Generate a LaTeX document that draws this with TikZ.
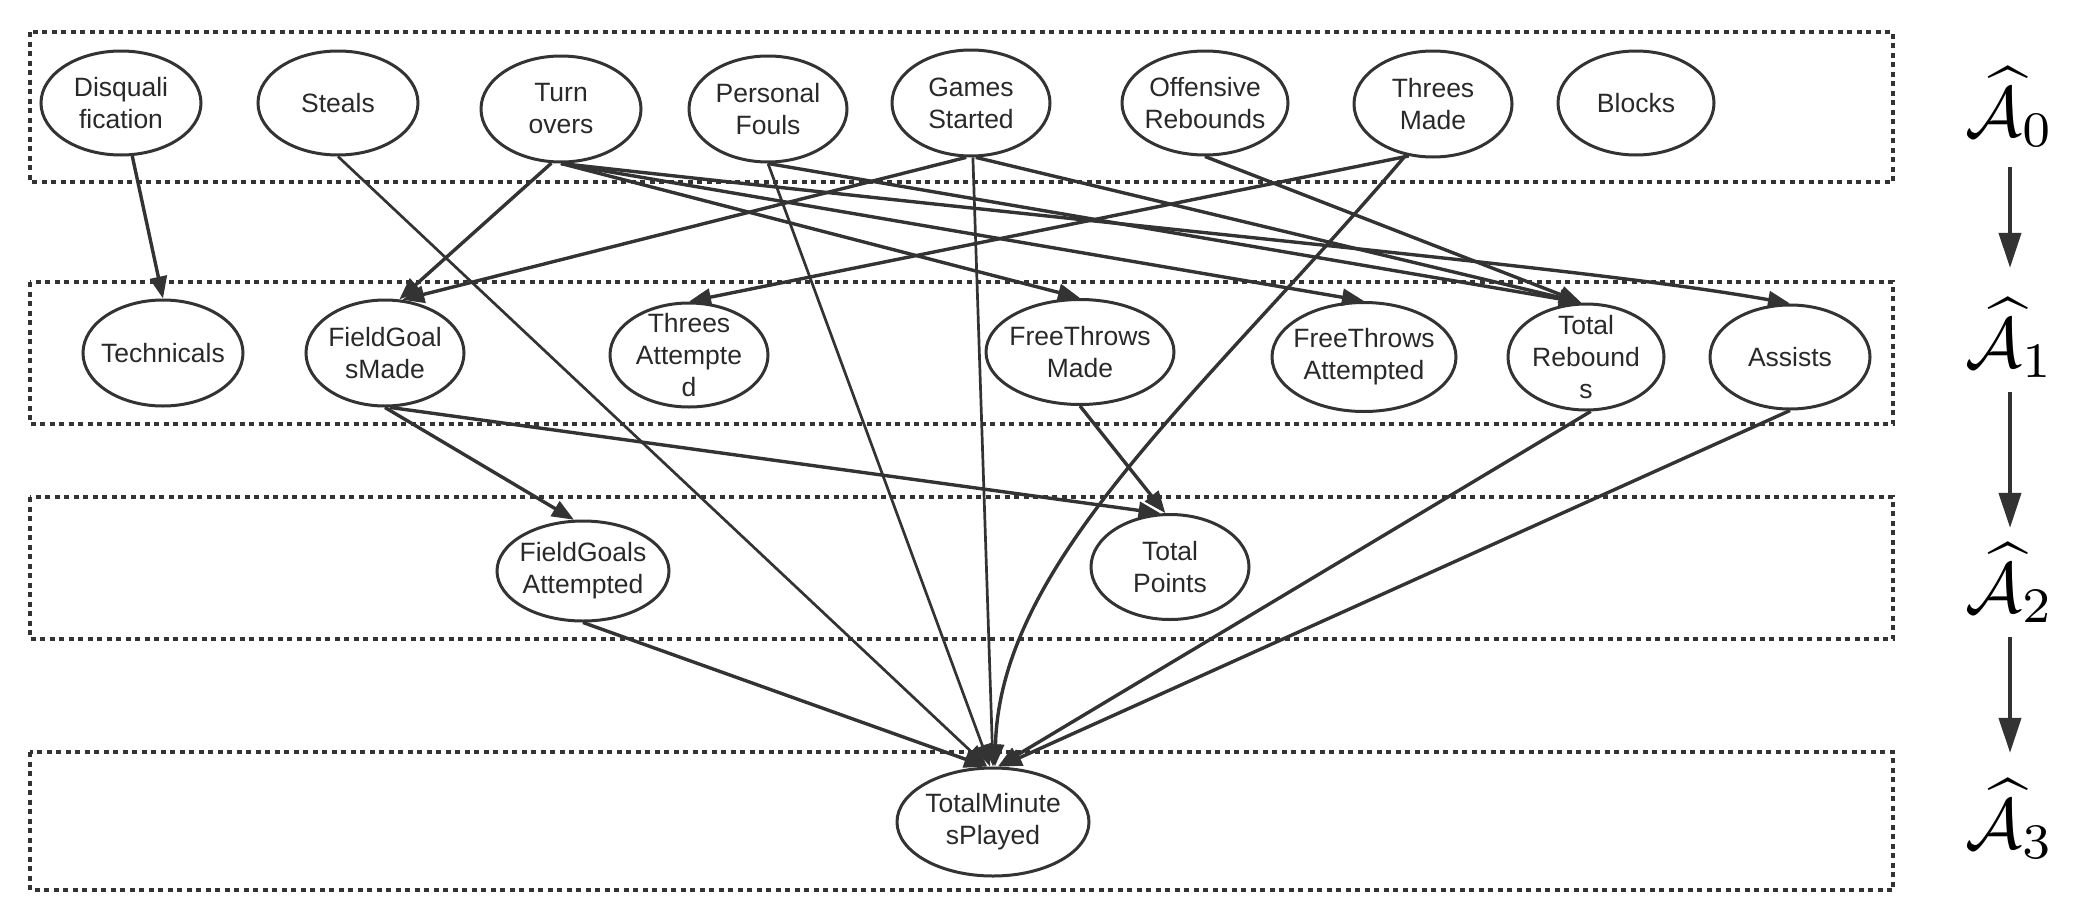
\documentclass[tikz,border=0pt]{standalone}
\usepackage[no-math]{fontspec}
\usepackage{graphicx}
\usetikzlibrary{shapes.geometric,arrows.meta}
\newfontfamily\nodefont{Liberation Sans}
\definecolor{ink}{HTML}{333333}
\tikzset{
  var/.style={ellipse, draw=ink, line width=3pt, inner xsep=-6pt, inner ysep=-10pt,
    minimum width=160pt, minimum height=106pt, align=center, text=ink!80!black,
    font=\nodefont\fontsize{26.5}{32}\selectfont},
  edge/.style={-{Triangle[length=22pt,width=17pt]}, draw=ink, line width=3.4pt},
  thinedge/.style={edge, line width=2.7pt},
  layer/.style={draw=ink, line width=3.5pt, dash pattern=on 5pt off 4.5pt},
  lab/.style={inner sep=0pt, text=black},
  labarrow/.style={-{Triangle[length=35pt,width=22pt]}, draw=ink, line width=4pt},
}
\begin{document}
\begin{tikzpicture}[x=1pt,y=-1pt]
\useasboundingbox (0,0) rectangle (2089,916);
% layers
\draw[layer] (30,32) rectangle (1893,182);
\draw[layer] (30,282) rectangle (1893,424);
\draw[layer] (30,497) rectangle (1893,639);
\draw[layer] (30,752) rectangle (1893,890);
% row 0
\node[var, minimum width=160pt, minimum height=104pt] (dq) at (121,103) {Disquali\\fication};
\node[var, minimum width=160pt, minimum height=104pt] (st) at (338,103) {Steals};
\node[var, minimum width=160pt, minimum height=106pt] (tov) at (561,109) {Turn\\overs};
\node[var, minimum width=158pt, minimum height=106pt] (pf) at (768,109) {Personal\\Fouls};
\node[var, minimum width=158pt, minimum height=106pt] (gs) at (971,103) {Games\\Started};
\node[var, minimum width=166pt, minimum height=104pt] (orb) at (1205,103) {Offensive\\Rebounds};
\node[var, minimum width=158pt, minimum height=106pt] (tm) at (1433,104) {Threes\\Made};
\node[var, minimum width=156pt, minimum height=104pt] (bl) at (1636,103) {Blocks};
% row 1
\node[var, minimum width=160pt, minimum height=106pt] (tech) at (163,353) {Technicals};
\node[var, minimum width=158pt, minimum height=106pt] (fgm) at (385,353) {FieldGoal\\sMade};
\node[var, minimum width=158pt, minimum height=104pt] (ta) at (689,355) {Threes\\Attempte\\d};
\node[var, minimum width=188pt, minimum height=105pt] (ftm) at (1080,352) {FreeThrows\\Made};
\node[var, minimum width=184pt, minimum height=109pt] (fta) at (1364,357) {FreeThrows\\Attempted};
\node[var, minimum width=156pt, minimum height=106pt] (tr) at (1586,357) {Total\\Rebound\\s};
\node[var, minimum width=160pt, minimum height=104pt] (as) at (1790,357) {Assists};
% row 2
\node[var, minimum width=172pt, minimum height=100pt] (fga) at (583,571) {FieldGoals\\Attempted};
\node[var, minimum width=158pt, minimum height=105pt] (tp) at (1170,567) {Total\\Points};
% row 3
\node[var, minimum width=192pt, minimum height=108pt] (tmp) at (993,822) {TotalMinute\\sPlayed};
% edges
\draw[edge] (dq.-78) -- (tech.north);
\draw[thinedge] (st.south) -- (tmp.96);
\draw[edge] (tov.-100) -- (fgm.75);
\draw[edge] (gs.-95) -- (fgm.72);
\draw[edge] (tov.south) -- (ftm.north);
\draw[edge] (tov.south) -- (fta.north);
\draw[edge] (tov.south) .. controls (1300,245) and (1600,270) .. (as.north);
\draw[thinedge] (pf.south) -- (tmp.93);
\draw[edge] (pf.south) -- (tr.95);
\draw[thinedge] (gs.-88) -- (tmp.north);
\draw[edge] (gs.-85) -- (tr.95);
\draw[edge] (orb.south) -- (tr.95);
\draw[edge] (tm.-115) -- (ta.north);
\draw[edge] (tm.-118) .. controls (1205,391) and (1000,560) .. (tmp.88);
\draw[edge] (fgm.south) -- (fga.100);
\draw[edge] (fgm.-85) -- (tp.100);
\draw[edge] (ftm.south) -- (tp.95);
\draw[edge] (fga.south) -- (tmp.97);
\draw[edge] (tr.-85) -- (tmp.85);
\draw[edge] (as.south) -- (tmp.83);
% layer labels
\node[lab] (a0) at (2010,107) {\scalebox{7.1}{$\widehat{\mathcal{A}}_{0}$}};
\node[lab] (a1) at (2010,338) {\scalebox{7.1}{$\widehat{\mathcal{A}}_{1}$}};
\node[lab] (a2) at (2010,583) {\scalebox{7.1}{$\widehat{\mathcal{A}}_{2}$}};
\node[lab] (a3) at (2010,819) {\scalebox{7.1}{$\widehat{\mathcal{A}}_{3}$}};
\draw[labarrow, shorten <=20pt, shorten >=30pt] (a0.south) -- (a1.north);
\draw[labarrow, shorten <=14pt, shorten >=15pt] (a1.south) -- (a2.north);
\draw[labarrow, shorten <=14pt, shorten >=26pt] (a2.south) -- (a3.north);
\end{tikzpicture}
\end{document}
